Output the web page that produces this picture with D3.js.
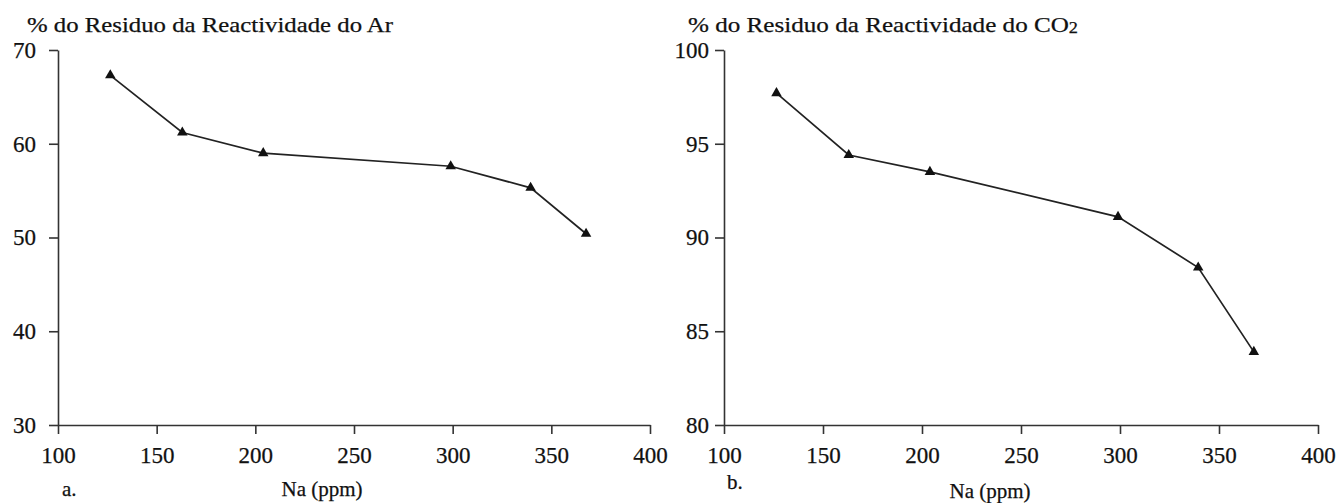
<!DOCTYPE html>
<html>
<head>
  <meta charset="utf-8">
  <script src="https://cdn.jsdelivr.net/npm/d3@7"></script>
  <style>
    body { margin: 0; background: #fff; }
    text { font-family: "Liberation Serif", "DejaVu Serif", serif; fill: #111; stroke: #111; stroke-width: 0.25; }
    .axis path, .axis line { stroke: #333; stroke-width: 1.6; }
  </style>
</head>
<body>
<script>
  // Na concentration (ppm) of the samples
  var naPpm = [126.5, 163, 204, 299, 339.5, 367.6];
  // residue of reactivity, in %
  var residueAr = [67.3, 61.2, 59.0, 57.6, 55.3, 50.4];
  var residueCO2 = [97.7, 94.4, 93.5, 91.1, 88.4, 83.9];
  var xTicks = [100, 150, 200, 250, 300, 350, 400];
  var yTicksAr = [30, 40, 50, 60, 70];
  var yTicksCO2 = [80, 85, 90, 95, 100];

  var W = 1339, H = 503;
  var svg = d3.select("body").append("svg")
      .attr("width", W)
      .attr("height", H);

  function panel(opt) {
    var x = d3.scaleLinear().domain([100, 400]).range([opt.x0, opt.x1]);
    var y = d3.scaleLinear().domain(opt.yDomain).range([425, 50]);
    var g = svg.append("g");

    g.append("g")
      .attr("class", "axis")
      .attr("transform", "translate(0,425)")
      .call(d3.axisBottom(x).tickValues(xTicks).tickSize(9).tickSizeOuter(0).tickPadding(13))
      .call(function (a) {
        a.selectAll("text").attr("font-size", 23).attr("fill", "#111")
          .attr("font-family", "Liberation Serif");
      });

    g.append("g")
      .attr("class", "axis")
      .attr("transform", "translate(" + opt.x0 + ",0)")
      .call(d3.axisLeft(y).tickValues(opt.yTicks).tickSize(9).tickSizeOuter(0).tickPadding(opt.pad))
      .call(function (a) {
        a.selectAll("text").attr("font-size", 23).attr("fill", "#111")
          .attr("font-family", "Liberation Serif");
      });

    var pts = naPpm.map(function (d, i) { return [d, opt.values[i]]; });

    g.append("path")
      .datum(pts)
      .attr("fill", "none")
      .attr("stroke", "#222")
      .attr("stroke-width", 1.7)
      .attr("d", d3.line().x(function (d) { return x(d[0]); }).y(function (d) { return y(d[1]); }));

    g.selectAll(".pt")
      .data(pts)
      .enter()
      .append("path")
        .attr("class", "pt")
        .attr("transform", function (d) { return "translate(" + x(d[0]) + "," + y(d[1]) + ")"; })
        .attr("d", d3.symbol().type(d3.symbolTriangle).size(48))
        .attr("fill", "#111");

    // title above the y axis
    var t = g.append("text")
      .attr("x", opt.titleX)
      .attr("y", 32)
      .attr("font-size", 22)
      .attr("textLength", opt.titleLen)
      .attr("lengthAdjust", "spacingAndGlyphs");
    t.append("tspan").text(opt.title);
    if (opt.sub) {
      t.append("tspan").attr("font-size", 16).attr("dy", 1).text(opt.sub);
    }

    g.append("text")
      .attr("x", opt.letterX)
      .attr("y", opt.letterY)
      .attr("font-size", 21)
      .text(opt.letter);

    g.append("text")
      .attr("x", opt.labelX)
      .attr("y", opt.labelY)
      .attr("text-anchor", "middle")
      .attr("font-size", 21)
      .text("Na (ppm)");
  }

  panel({
    x0: 58, x1: 650, yDomain: [30, 70], yTicks: yTicksAr, values: residueAr, pad: 13,
    title: "% do Residuo da Reactividade do Ar", titleX: 27, titleLen: 366,
    letter: "a.", letterX: 62, letterY: 496,
    labelX: 322, labelY: 496
  });

  panel({
    x0: 724, x1: 1318, yDomain: [80, 100], yTicks: yTicksCO2, values: residueCO2, pad: 6,
    title: "% do Residuo da Reactividade do CO", sub: "2", titleX: 688, titleLen: 390,
    letter: "b.", letterX: 727, letterY: 489,
    labelX: 990, labelY: 498
  });
</script>
</body>
</html>
